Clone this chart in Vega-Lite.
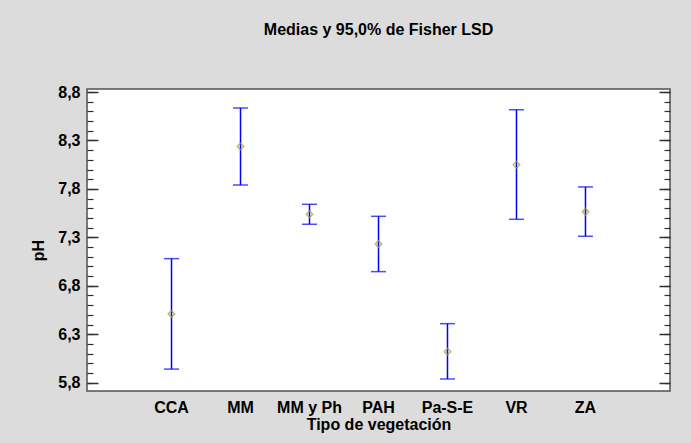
{
  "$schema": "https://vega.github.io/schema/vega-lite/v6.json",
  "width": 583,
  "height": 302,
  "autosize": {"type": "none"},
  "padding": {"left": 87, "top": 89, "right": 21, "bottom": 52},
  "background": "#dcdcdc",
  "title": {
    "text": "Medias y 95,0% de Fisher LSD",
    "fontSize": 16,
    "fontWeight": "bold",
    "font": "Liberation Sans",
    "color": "#000000",
    "anchor": "middle",
    "frame": "group",
    "baseline": "alphabetic",
    "offset": 33
  },
  "config": {
    "font": "Liberation Sans",
    "view": {"fill": "#ffffff", "stroke": "#505050", "strokeWidth": 1.5},
    "axis": {"grid": false, "domain": false, "tickColor": "#303030", "labelColor": "#000000", "titleColor": "#000000"}
  },
  "data": {
    "values": [
      {"tipo": "CCA", "media": 6.51, "lo": 5.94, "hi": 7.08},
      {"tipo": "MM", "media": 8.237, "lo": 7.84, "hi": 8.635},
      {"tipo": "MM y Ph", "media": 7.538, "lo": 7.435, "hi": 7.641},
      {"tipo": "PAH", "media": 7.23, "lo": 6.946, "hi": 7.517},
      {"tipo": "Pa-S-E", "media": 6.12, "lo": 5.838, "hi": 6.409},
      {"tipo": "VR", "media": 8.05, "lo": 7.486, "hi": 8.617},
      {"tipo": "ZA", "media": 7.565, "lo": 7.311, "hi": 7.82}
    ]
  },
  "encoding": {
    "x": {
      "field": "tipo",
      "type": "nominal",
      "sort": null,
      "scale": {"type": "band", "paddingInner": 0, "paddingOuter": 0.725},
      "axis": {
        "title": "Tipo de vegetación",
        "labelAngle": 0,
        "labelFont": "Liberation Sans",
        "labelFontSize": 16,
        "labelFontWeight": "bold",
        "labelPadding": 8,
        "ticks": false,
        "titleFontSize": 16,
        "titleFontWeight": "bold",
        "titlePadding": 1
      }
    }
  },
  "resolve": {"axis": {"y": "independent"}},
  "layer": [
    {
      "mark": {"type": "rule", "color": "#0000ff", "strokeWidth": 1.5},
      "encoding": {
        "y": {
          "field": "lo",
          "type": "quantitative",
          "scale": {"domain": [5.714, 8.831], "nice": false, "zero": false},
          "axis": {
            "orient": "left",
            "title": "pH",
            "titleFontSize": 16,
            "titleFontWeight": "bold",
            "titleX": -41,
            "titleY": 161,
            "values": [5.8, 6.3, 6.8, 7.3, 7.8, 8.3, 8.8],
            "labelExpr": "replace(format(datum.value, '.1f'), '.', ',')",
            "labelFontSize": 16,
            "labelFontWeight": "bold",
            "tickSize": -11,
            "tickWidth": 1.5,
            "labelPadding": 18
          }
        },
        "y2": {"field": "hi"}
      }
    },
    {
      "mark": {"type": "tick", "color": "#0000ff", "size": 15, "thickness": 1.5},
      "encoding": {
        "y": {
          "field": "lo",
          "type": "quantitative",
          "axis": {
            "orient": "left",
            "title": null,
            "labels": false,
            "values": [5.8, 5.9, 6.0, 6.1, 6.2, 6.3, 6.4, 6.5, 6.6, 6.7, 6.8, 6.9, 7.0, 7.1, 7.2, 7.3, 7.4, 7.5, 7.6, 7.7, 7.8, 7.9, 8.0, 8.1, 8.2, 8.3, 8.4, 8.5, 8.6, 8.7, 8.8],
            "tickSize": -6,
            "tickWidth": 1.2
          }
        }
      }
    },
    {
      "mark": {"type": "tick", "color": "#0000ff", "size": 15, "thickness": 1.5},
      "encoding": {
        "y": {
          "field": "hi",
          "type": "quantitative",
          "axis": {
            "orient": "right",
            "title": null,
            "labels": false,
            "values": [5.8, 6.3, 6.8, 7.3, 7.8, 8.3, 8.8],
            "tickSize": -11,
            "tickWidth": 1.5
          }
        }
      }
    },
    {
      "mark": {"type": "point", "shape": "diamond", "size": 42, "filled": false, "color": "#a39b3c", "strokeWidth": 1.5},
      "encoding": {
        "y": {
          "field": "media",
          "type": "quantitative",
          "axis": {
            "orient": "right",
            "title": null,
            "labels": false,
            "values": [5.8, 5.9, 6.0, 6.1, 6.2, 6.3, 6.4, 6.5, 6.6, 6.7, 6.8, 6.9, 7.0, 7.1, 7.2, 7.3, 7.4, 7.5, 7.6, 7.7, 7.8, 7.9, 8.0, 8.1, 8.2, 8.3, 8.4, 8.5, 8.6, 8.7, 8.8],
            "tickSize": -6,
            "tickWidth": 1.2
          }
        }
      }
    }
  ]
}
